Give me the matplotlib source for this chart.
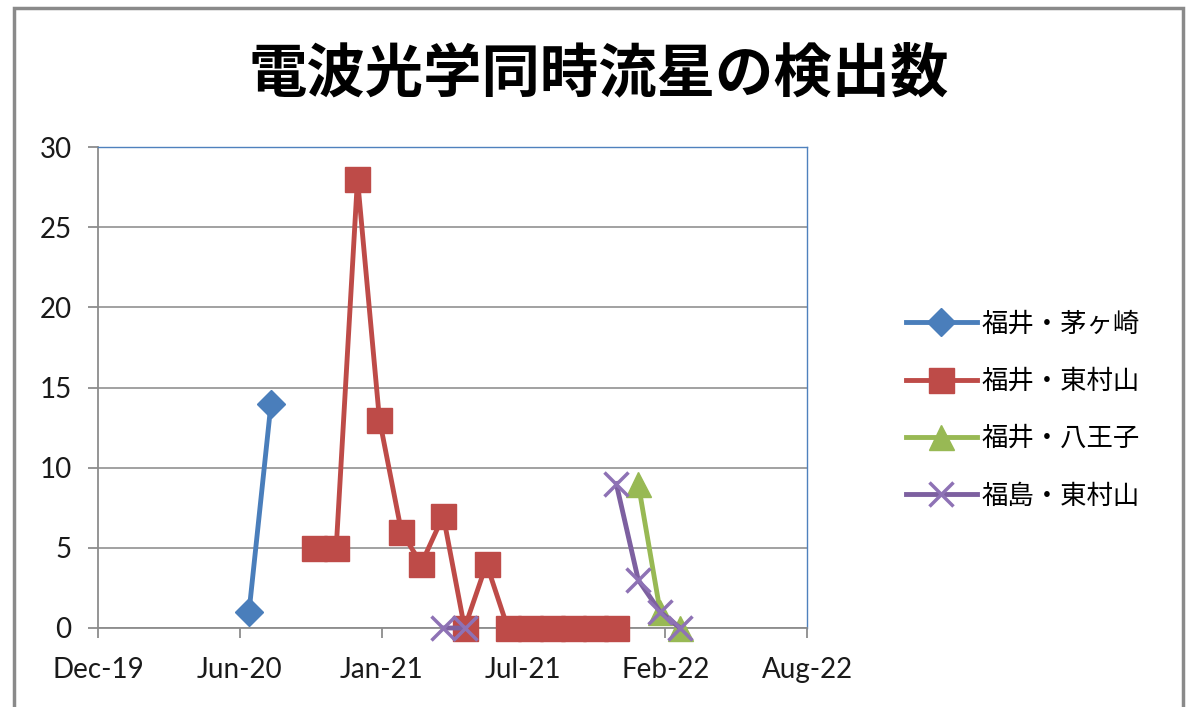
import numpy as np
import matplotlib
matplotlib.use("Agg")
import matplotlib.pyplot as plt
import matplotlib.dates as mdates
from matplotlib.patches import Rectangle
from datetime import date, timedelta

# monthly counts
chigasaki_dates = ["2020-07-01", "2020-08-01"]
chigasaki_vals = [1, 14]

higashimurayama_dates = ["2020-10-01", "2020-11-01", "2020-12-01", "2021-01-01",
                         "2021-02-01", "2021-03-01", "2021-04-01", "2021-05-01",
                         "2021-06-01", "2021-07-01", "2021-08-01", "2021-09-01",
                         "2021-10-01", "2021-11-01", "2021-12-01"]
higashimurayama_vals = [5, 5, 28, 13, 6, 4, 7, 0, 4, 0, 0, 0, 0, 0, 0]

hachioji_dates = ["2022-01-01", "2022-02-01", "2022-03-01"]
hachioji_vals = [9, 1, 0]

# gap (NaN) between May and Dec 2021
fukushima_dates = ["2021-04-01", "2021-05-01", "2021-06-01", "2021-12-01",
                   "2022-01-01", "2022-02-01", "2022-03-01"]
fukushima_vals = [0, 0, np.nan, 9, 3, 1, 0]

labels = ["福井・茅ヶ崎", "福井・東村山", "福井・八王子", "福島・東村山"]
colors = ["#4A7EBB", "#BE4B48", "#98B954", "#7D60A0"]

jp = ["Noto Sans CJK JP", "DejaVu Sans"]
latin = ["Lato", "DejaVu Sans"]

fig = plt.figure(figsize=(11.92, 7.07), dpi=100)
ax = fig.add_axes([98 / 1192, 79 / 707, 709 / 1192, 481 / 707])

def d(lst):
    return [np.datetime64(s) for s in lst]

ax.plot(d(chigasaki_dates), chigasaki_vals, color=colors[0], lw=3.5,
        marker="D", ms=14, label=labels[0], zorder=3, clip_on=False)
ax.plot(d(higashimurayama_dates), higashimurayama_vals, color=colors[1], lw=3.5,
        marker="s", ms=18, label=labels[1], zorder=3, clip_on=False)
ax.plot(d(hachioji_dates), hachioji_vals, color=colors[2], lw=3.5,
        marker="^", ms=18, label=labels[2], zorder=4, clip_on=False)
ax.plot(d(fukushima_dates), fukushima_vals, color=colors[3], lw=3.5,
        marker="x", ms=17, mew=2.5, mec="#8E72B5", label=labels[3], zorder=5,
        clip_on=False)

start = date(2019, 12, 1)
ticks = [start + timedelta(days=200 * i) for i in range(6)]
ax.set_xlim(ticks[0], ticks[-1])
ax.set_xticks(ticks)
ax.xaxis.set_major_formatter(mdates.DateFormatter("%b-%y"))
ax.set_ylim(0, 30)
ax.set_yticks(range(0, 31, 5))

ax.yaxis.grid(True, color="#9A9A9A", lw=1.3)
ax.set_axisbelow(True)
for s in ["top", "right"]:
    ax.spines[s].set_color("#4F81BD")
    ax.spines[s].set_linewidth(1.0)
for s in ["left", "bottom"]:
    ax.spines[s].set_color("#8C8C8C")
    ax.spines[s].set_linewidth(1.3)
ax.tick_params(direction="out", length=7, width=1.3, color="#8C8C8C",
               labelsize=20, labelcolor="#1a1a1a")
ax.tick_params(axis="x", pad=14)
ax.tick_params(axis="y", pad=12)
for t in ax.get_xticklabels() + ax.get_yticklabels():
    t.set_family(latin)

fig.text(0.502, 0.895, "電波光学同時流星の検出数", ha="center", va="center",
         fontsize=42, fontweight="bold", family=jp)

leg = fig.legend(loc="center left", bbox_to_anchor=(0.74, 0.42), frameon=False,
                 prop={"family": jp, "size": 19}, handlelength=2.7,
                 handletextpad=0.15, labelspacing=1.15)

# outer chart border
fig.patches.append(Rectangle((14 / 1192, -0.02), 1169 / 1192, 1.008, transform=fig.transFigure,
                             fill=False, ec="#8A8A8A", lw=2.5))

fig.savefig("out.png", dpi=100)
